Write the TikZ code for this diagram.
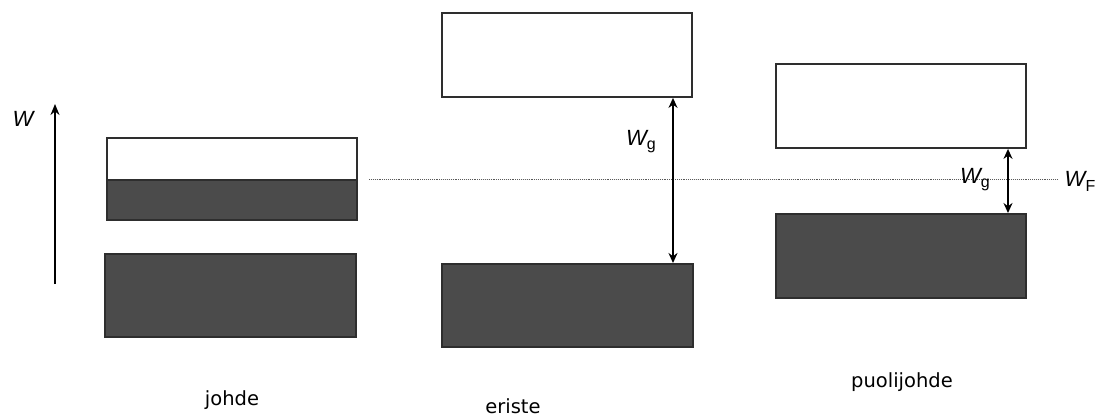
\documentclass[tikz,border=0pt]{standalone}
\usepackage{fontspec}
\setmainfont{DejaVu Sans}
\newfontfamily\arialf{Liberation Sans}
\newfontfamily\arialit{Liberation Sans Italic}
\usetikzlibrary{arrows.meta,calc}
\definecolor{band}{HTML}{4B4B4B}
\definecolor{edge}{HTML}{2E2E2E}
\tikzset{
  emptyband/.style={draw=edge,line width=1.9pt,fill=white,inner sep=0pt,anchor=north west},
  fullband/.style={draw=edge,line width=1.9pt,fill=band,inner sep=0pt,anchor=north west},
  gaparrow/.style={line width=1.8pt,{Stealth[length=10pt,width=9pt]}-{Stealth[length=10pt,width=9pt]}},
  symblabel/.style={font=\fontsize{22}{22}\selectfont,inner sep=0pt},
  bandname/.style={font=\fontsize{19.5}{19.5}\selectfont,inner sep=0pt}
}
\begin{document}
\begin{tikzpicture}[x=1pt,y=-1pt]
\useasboundingbox (0,0) rectangle (1108,416);
% energy axis
\coordinate (wlow) at (55,284);
\coordinate (whigh) at (55,104);
\draw[line width=1.8pt,-{Stealth[length=11pt,width=9pt]}] (wlow) -- (whigh);
\node[symblabel] (wlab) at (23,119) {\arialit W};
% Fermi level
\coordinate (fl) at (369,179);
\coordinate (fr) at (1057,179);
\draw[line width=0.9pt,densely dotted,gray!70!black] (fl) -- (fr);
\node[symblabel] (wf) at (1080,181) {\arialit W\raisebox{-5pt}{\arialf\fontsize{16}{16}\selectfont F}};
% johde
\node[emptyband,minimum width=250pt,minimum height=42pt] (jtop) at (106,137) {};
\node[fullband,minimum width=250pt,minimum height=40pt] (jmid) at (106,179) {};
\node[fullband,minimum width=251pt,minimum height=83pt] (jbot) at (104,253) {};
\node[bandname] (jname) at (232,400) {johde};
% eriste
\node[emptyband,minimum width=250pt,minimum height=84pt] (etop) at (441,12) {};
\node[fullband,minimum width=251pt,minimum height=83pt] (ebot) at (441,263) {};
\draw[gaparrow] (etop.south -| 673,0) -- (ebot.north -| 673,0);
\node[symblabel] (eg) at (641,142) {\arialit W\raisebox{-4pt}{\arialf\fontsize{16}{16}\selectfont g}};
\node[bandname] (ename) at (513,406) {eriste};
% puolijohde
\node[emptyband,minimum width=250pt,minimum height=84pt] (ptop) at (775,63) {};
\node[fullband,minimum width=250pt,minimum height=84pt] (pbot) at (775,213) {};
\draw[gaparrow] (ptop.south -| 1008,0) -- (pbot.north -| 1008,0);
\node[symblabel] (pg) at (975,180) {\arialit W\raisebox{-4pt}{\arialf\fontsize{16}{16}\selectfont g}};
\node[bandname] (pname) at (902,382) {puolijohde};
\end{tikzpicture}
\end{document}
